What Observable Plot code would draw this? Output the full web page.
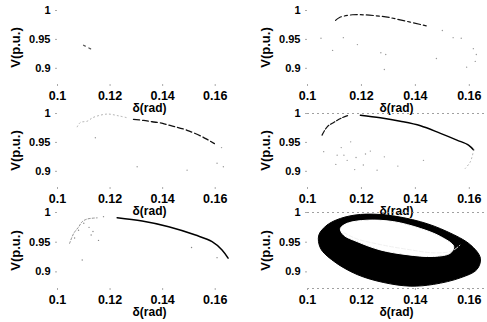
<!DOCTYPE html>
<html><head><meta charset="utf-8">
<script src="https://cdn.jsdelivr.net/npm/d3@7"></script>
<script src="https://cdn.jsdelivr.net/npm/@observablehq/plot@0.6"></script>
<style>
html,body{margin:0;padding:0;background:#fff;}
#chart{position:relative;width:487px;height:322px;overflow:hidden;background:#fff;}
#chart svg{position:absolute;}
</style></head><body><div id="chart"></div>
<script>
const xTicks = [0.1, 0.12, 0.14, 0.16];
const yTicks = [0.9, 0.95, 1];
const xLabel = "δ(rad)";
const yLabel = "V(p.u.)";

// Panel 1 (top-left): trajectory collapsed to a short segment
const p1Seg = [[0.1099, 0.940], [0.1137, 0.931]];

// Panel 2 (top-right)
const p2Arc = [[0.1104, 0.983], [0.1119, 0.988], [0.1167, 0.9926], [0.1207, 0.9926], [0.1252, 0.991], [0.1290, 0.989], [0.1326, 0.9857], [0.1444, 0.973]];
const p2Faint = [[0.150, 0.9655], [0.154, 0.953], [0.157, 0.952], [0.1615, 0.934], [0.1626, 0.924], [0.1622, 0.912], [0.159, 0.902], [0.1478, 0.917], [0.1285, 0.898], [0.129, 0.924], [0.1272, 0.927], [0.1185, 0.941], [0.1133, 0.953], [0.1093, 0.931], [0.105, 0.952]];

// Panel 3 (middle-left)
const p3Light = [[0.1075, 0.977], [0.1087, 0.9845], [0.1113, 0.9867], [0.1129, 0.9914], [0.1142, 0.9943], [0.1189, 0.999], [0.1232, 0.996], [0.1265, 0.9926]];
const p3Arc = [[0.1289, 0.990], [0.1327, 0.988], [0.136, 0.9857], [0.140, 0.983], [0.1422, 0.980], [0.1449, 0.977], [0.1493, 0.971], [0.155, 0.960], [0.1574, 0.954], [0.1597, 0.948]];
const p3Faint = [[0.1624, 0.941], [0.1607, 0.914], [0.1631, 0.908], [0.1493, 0.902], [0.1303, 0.908], [0.1144, 0.958]];

// Panel 4 (middle-right)
const p4Left = [[0.1054, 0.9626], [0.1073, 0.977], [0.1097, 0.9845], [0.1128, 0.9926], [0.1153, 0.997]];
const p4Arc = [[0.1196, 0.997], [0.127, 0.9926], [0.1344, 0.9867], [0.1419, 0.9788], [0.1493, 0.9655], [0.1554, 0.954], [0.1597, 0.9454], [0.1616, 0.937]];
const p4Right = [[0.1616, 0.937], [0.1604, 0.9167], [0.1585, 0.905]];
const p4Faint = [[0.143, 0.919], [0.1258, 0.902], [0.1207, 0.911], [0.1147, 0.919], [0.111, 0.928], [0.106, 0.934], [0.1233, 0.935], [0.116, 0.951], [0.1105, 0.912], [0.1135, 0.928], [0.118, 0.924], [0.1215, 0.93], [0.1285, 0.925], [0.1335, 0.909], [0.1175, 0.903], [0.1125, 0.941]];

// Panel 5 (bottom-left)
const p5Light = [[0.1046, 0.948], [0.1062, 0.965], [0.1081, 0.976], [0.1094, 0.9845], [0.1113, 0.989], [0.1151, 0.991]];
const p5Arc = [[0.1227, 0.991], [0.1322, 0.9855], [0.1423, 0.976], [0.1525, 0.962], [0.1588, 0.951], [0.1626, 0.937], [0.1649, 0.923]];
const p5Faint = [[0.1156, 0.953], [0.1094, 0.920], [0.151, 0.941], [0.1607, 0.924], [0.112, 0.975], [0.108, 0.970], [0.110, 0.982], [0.1135, 0.968], [0.1065, 0.957], [0.1175, 0.993], [0.1128, 0.962]];

// Panel 6 (bottom-right): dense band of orbits
const p6Outer = [[0.1042, 0.962], [0.1073, 0.979], [0.1122, 0.990], [0.1196, 0.9967], [0.1295, 0.9956], [0.1419, 0.9845], [0.1517, 0.968], [0.1604, 0.9456], [0.1641, 0.923], [0.1628, 0.904], [0.1567, 0.890], [0.1468, 0.879], [0.1381, 0.876], [0.1283, 0.882], [0.1184, 0.8955], [0.1097, 0.918], [0.1048, 0.940]];
const p6Inner = [[0.1122, 0.973], [0.1147, 0.9817], [0.1221, 0.987], [0.132, 0.9845], [0.1419, 0.973], [0.1493, 0.9595], [0.1542, 0.943], [0.153, 0.9317], [0.1468, 0.926], [0.1369, 0.929], [0.127, 0.937], [0.1184, 0.951], [0.1134, 0.962]];
const p6Streak = [[0.1135, 0.966], [0.118, 0.956], [0.127, 0.946], [0.137, 0.938], [0.147, 0.932], [0.1535, 0.935], [0.1565, 0.945]];

const X = d => d[0], Y = d => d[1];
const rowTop = [0, 103, 202];
const rowHeight = [116, 115, 120];
const rowMarginBottom = [32, 31, 34];

function panel(col, row, marks) {
  const left = col === 0;
  const svg = Plot.plot({
    width: 245,
    height: rowHeight[row],
    marginLeft: left ? 57 : 65,
    marginRight: left ? 4 : 2,
    marginTop: 10,
    marginBottom: rowMarginBottom[row],
    x: {domain: left ? [0.1, 0.17] : [0.1, 0.166]},
    y: {domain: [0.872, 1]},
    style: {background: "transparent", fontFamily: "'Liberation Sans', Arial, sans-serif", fontWeight: "bold", overflow: "visible", color: "black"},
    marks: [
      ...marks,
      Plot.axisX(xTicks, {tickSize: 2, tickPadding: 5, tickFormat: d => String(d), fontSize: 12.5, stroke: "#aaa", fill: "black", label: null}),
      Plot.axisY(yTicks, {tickSize: 2, tickPadding: 5, tickFormat: d => String(d), fontSize: 11, stroke: "#aaa", fill: "black", label: null}),
      Plot.text([xLabel], {frameAnchor: "bottom", lineAnchor: "middle", dy: 24, fontSize: 12, fontWeight: "bold", fill: "black"}),
      Plot.text([yLabel], {frameAnchor: "left", textAnchor: "middle", lineAnchor: "middle", dx: -42, rotate: -90, fontSize: 13, fontWeight: "bold", fill: "black"})
    ]
  });
  svg.style.left = (left ? 0 : 242) + "px";
  svg.style.top = rowTop[row] + "px";
  document.getElementById("chart").appendChild(svg);
}

const dotted = {x: X, y: Y, stroke: "#999", strokeWidth: 0.8, strokeDasharray: "1,3", curve: "catmull-rom"};

panel(0, 0, [
  Plot.line(p1Seg, {x: X, y: Y, stroke: "#555", strokeWidth: 1.2, strokeDasharray: "2,4"})
]);
panel(1, 0, [
  Plot.line(p2Arc, {x: X, y: Y, stroke: "#111", strokeWidth: 1.2, strokeDasharray: "7,3,3,3", curve: "catmull-rom"}),
  Plot.dot(p2Faint, {x: X, y: Y, r: 0.7, fill: "#999", stroke: null})
]);
panel(0, 1, [
  Plot.line(p3Light, dotted),
  Plot.line(p3Arc, {x: X, y: Y, stroke: "#111", strokeWidth: 1.3, strokeDasharray: "6,3", curve: "catmull-rom"}),
  Plot.dot(p3Faint, {x: X, y: Y, r: 0.7, fill: "#999", stroke: null})
]);
panel(1, 1, [
  Plot.ruleY([1], {stroke: "#888", strokeDasharray: "2,3", strokeWidth: 0.8}),
  Plot.line(p4Left, {x: X, y: Y, stroke: "#111", strokeWidth: 1.2, strokeDasharray: "5,2", curve: "catmull-rom"}),
  Plot.line(p4Arc, {x: X, y: Y, stroke: "#000", strokeWidth: 1.4, curve: "catmull-rom"}),
  Plot.line(p4Right, dotted),
  Plot.dot(p4Faint, {x: X, y: Y, r: 0.7, fill: "#999", stroke: null})
]);
panel(0, 2, [
  Plot.line(p5Light, {...dotted, stroke: "#777", strokeDasharray: "2,2"}),
  Plot.line(p5Arc, {x: X, y: Y, stroke: "#000", strokeWidth: 1.5, curve: "catmull-rom"}),
  Plot.dot(p5Faint, {x: X, y: Y, r: 0.7, fill: "#888", stroke: null})
]);
panel(1, 2, [
  Plot.ruleY([1, 0.872], {stroke: "#888", strokeDasharray: "2,3", strokeWidth: 0.8}),
  Plot.line(p6Outer, {x: X, y: Y, fill: "black", fillOpacity: 1, stroke: "black", strokeWidth: 1, curve: "catmull-rom-closed"}),
  Plot.line(p6Inner, {x: X, y: Y, fill: "white", fillOpacity: 1, stroke: "white", strokeWidth: 1, curve: "catmull-rom-closed"}),
  Plot.line(p6Streak, {x: X, y: Y, stroke: "#eee", strokeWidth: 0.9, strokeDasharray: "4,2", curve: "catmull-rom"})
]);
</script></body></html>
